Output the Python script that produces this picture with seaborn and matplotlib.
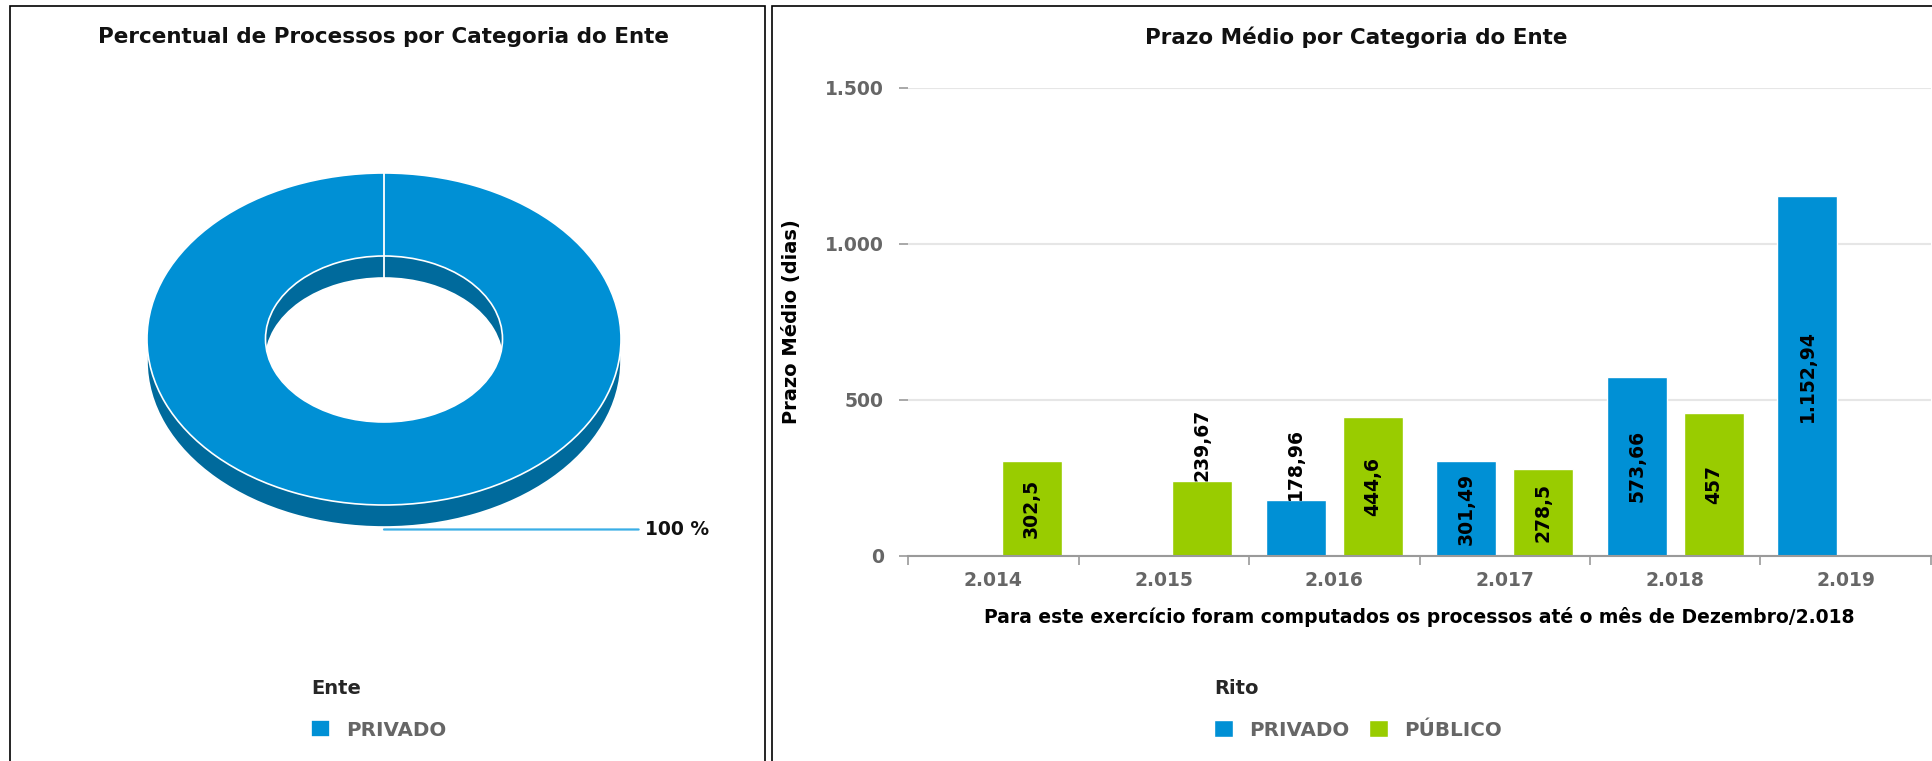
import numpy as np
import pandas as pd
import matplotlib
matplotlib.use('Agg')
import matplotlib.pyplot as plt
import seaborn as sns
from matplotlib.patches import Rectangle

sns.set_style('white')
plt.rcParams['font.family'] = ['DejaVu Sans']
plt.rcParams['font.weight'] = 'bold'

# dados do painel esquerdo (rosca)
entes = ['PRIVADO']
percentual_ente = [100]

# dados do painel direito (barras)
anos = ['2.014', '2.015', '2.016', '2.017', '2.018', '2.019']
ritos = ['PRIVADO', 'PÚBLICO']
prazo_privado = [np.nan, np.nan, 178.96, 301.49, 573.66, 1152.94]
prazo_publico = [302.5, 239.67, 444.6, 278.5, 457.0, np.nan]
y_ticks = [0, 500, 1000, 1500]

titulo_esq = 'Percentual de Processos por Categoria do Ente'
titulo_dir = 'Prazo Médio por Categoria do Ente'
rotulo_x = 'Para este exercício foram computados os processos até o mês de Dezembro/2.018'
rotulo_y = 'Prazo Médio (dias)'

AZUL = '#0090d5'
VERDE = '#99cc00'
AZUL_ESCURO = '#006a9c'
LINHA = '#3aaee6'
CINZA = '#666666'
EIXO = '#9a9a9a'

W, H = 1932, 761
fig = plt.figure(figsize=(W / 100, H / 100), dpi=100)


def fx(px):
    return px / W


def fy(py):
    return 1 - py / H


def formata(v):
    # formato brasileiro: 1.152,94
    s = f"{v:,.2f}".rstrip('0').rstrip('.')
    return s.replace(',', '#').replace('.', ',').replace('#', '.')


# molduras dos dois paineis
for x0, x1 in [(10, 765), (772, 1960)]:
    fig.add_artist(Rectangle((fx(x0), -0.05), fx(x1) - fx(x0), fy(6) + 0.05,
                             transform=fig.transFigure, fill=False,
                             ec='black', lw=1.2))

fig.text(fx(384), fy(37), titulo_esq, ha='center', va='center',
         fontsize=15.5, fontweight='bold', color='#111111')
fig.text(fx(1356), fy(37), titulo_dir, ha='center', va='center',
         fontsize=15.5, fontweight='bold', color='#111111')

# ---- rosca com efeito 3d ----
prof = 22 / 166
ax1 = fig.add_axes([fx(147), fy(527), fx(621) - fx(147), fy(173) - fy(527)])
fundo, _ = ax1.pie(percentual_ente, radius=1, center=(0, -prof), startangle=90,
                   counterclock=False, colors=[AZUL_ESCURO],
                   wedgeprops=dict(width=0.5, edgecolor='white', linewidth=1.2,
                                   clip_on=False, zorder=1))
wedges, _ = ax1.pie(percentual_ente, radius=1, startangle=90,
                    counterclock=False, colors=[AZUL],
                    wedgeprops=dict(width=0.5, edgecolor='white', linewidth=1.2,
                                    clip_on=False, zorder=2))

# linha radial no inicio da fatia (camada de baixo e de cima)
for w, dy, z in [(fundo[0], -prof, 1.5), (wedges[0], 0, 3)]:
    a = np.deg2rad(w.theta2)
    r = np.array([w.r - w.width, w.r])
    ax1.plot(r * np.cos(a), r * np.sin(a) + dy, color='white', lw=1.3,
             zorder=z, clip_on=False, solid_capstyle='butt')

ax1.set_xlim(-1, 1)
ax1.set_ylim(-1 - prof, 1)
ax1.set_aspect('auto')
ax1.axis('off')

for w, p in zip(wedges, percentual_ente):
    ang = np.deg2rad((w.theta1 + w.theta2) / 2)
    xa = np.cos(ang)
    ya = np.sin(ang) - prof - 0.015
    ax1.annotate(f"{p:.0f} %", xy=(xa, ya), xytext=(1.10, ya),
                 ha='left', va='center', fontsize=13.5, fontweight='bold',
                 color='#111111', annotation_clip=False,
                 arrowprops=dict(arrowstyle='-', color=LINHA, lw=1.6,
                                 shrinkA=2, shrinkB=0))

ax1.legend(wedges, entes, title='Ente', loc='upper left',
           bbox_to_anchor=(fx(311), fy(679)), bbox_transform=fig.transFigure,
           frameon=False, fontsize=14.3, labelcolor=CINZA, alignment='left',
           title_fontproperties={'weight': 'bold', 'size': 14},
           handlelength=0.95, handleheight=0.95, handletextpad=0.8,
           labelspacing=1.12, borderpad=0, borderaxespad=0)

# ---- barras ----
df = pd.DataFrame({
    'ano': anos * 2,
    'rito': [ritos[0]] * len(anos) + [ritos[1]] * len(anos),
    'prazo': prazo_privado + prazo_publico,
}).dropna()

ax2 = fig.add_axes([fx(908), fy(555.5), fx(1931) - fx(908), fy(87.5) - fy(555.5)])
sns.barplot(data=df, x='ano', y='prazo', hue='rito', order=anos,
            hue_order=ritos, palette=[AZUL, VERDE], width=0.9, gap=0.22,
            saturation=1, errorbar=None, ax=ax2)

ax2.set_xlim(-0.5, len(anos) - 0.5)
ax2.set_ylim(y_ticks[0], y_ticks[-1])
ax2.set_axisbelow(True)
ax2.yaxis.grid(True, color='#e6e6e6', lw=1.5)
ax2.xaxis.grid(False)
for lado in ['top', 'right', 'left']:
    ax2.spines[lado].set_visible(False)
ax2.spines['bottom'].set_color(EIXO)
ax2.spines['bottom'].set_linewidth(1.5)

ax2.set_yticks(y_ticks)
ax2.set_yticklabels([f"{v:,}".replace(',', '.') for v in y_ticks])
ax2.tick_params(axis='y', length=6.5, width=1.2, color=EIXO, pad=11,
                labelsize=13.5, labelcolor=CINZA, direction='out', left=True)
ax2.set_xticks(np.arange(len(anos)))
ax2.set_xticks(np.arange(len(anos) + 1) - 0.5, minor=True)
ax2.tick_params(axis='x', which='major', length=0, pad=11,
                labelsize=13.5, labelcolor=CINZA)
ax2.tick_params(axis='x', which='minor', length=6.5, width=1.2,
                color=EIXO, direction='out', bottom=True)

ax2.set_xlabel(rotulo_x, fontsize=13.5, fontweight='bold', color='black')
ax2.xaxis.set_label_coords(0.5, -0.11)
ax2.set_ylabel(rotulo_y, fontsize=14, fontweight='bold', color='black')
ax2.yaxis.set_label_coords(-0.1046, 0.5)

# rotulos de valor nas barras
renderer = fig.canvas.get_renderer()
for cont in ax2.containers:
    for barra in cont:
        v = barra.get_height()
        if np.isnan(v) or v == 0:
            continue
        xc = barra.get_x() + barra.get_width() / 2
        t = ax2.text(xc, v / 2, formata(v), rotation=90, ha='center',
                     va='center', fontsize=13.5, fontweight='bold',
                     color='black')
        alt_txt = t.get_window_extent(renderer).height
        alt_barra = barra.get_window_extent(renderer).height
        if alt_txt + 10 > alt_barra:
            t.set_y(v)
            t.set_va('bottom')

sns.move_legend(ax2, loc='upper left', bbox_to_anchor=(fx(1214), fy(679)),
                bbox_transform=fig.transFigure, ncol=2, title='Rito',
                frameon=False, fontsize=14.3, labelcolor=CINZA, alignment='left',
                title_fontproperties={'weight': 'bold', 'size': 14},
                handlelength=0.95, handleheight=0.95, handletextpad=0.8,
                columnspacing=1.0, labelspacing=1.12, borderpad=0,
                borderaxespad=0)

fig.savefig('out.png', dpi=100)
